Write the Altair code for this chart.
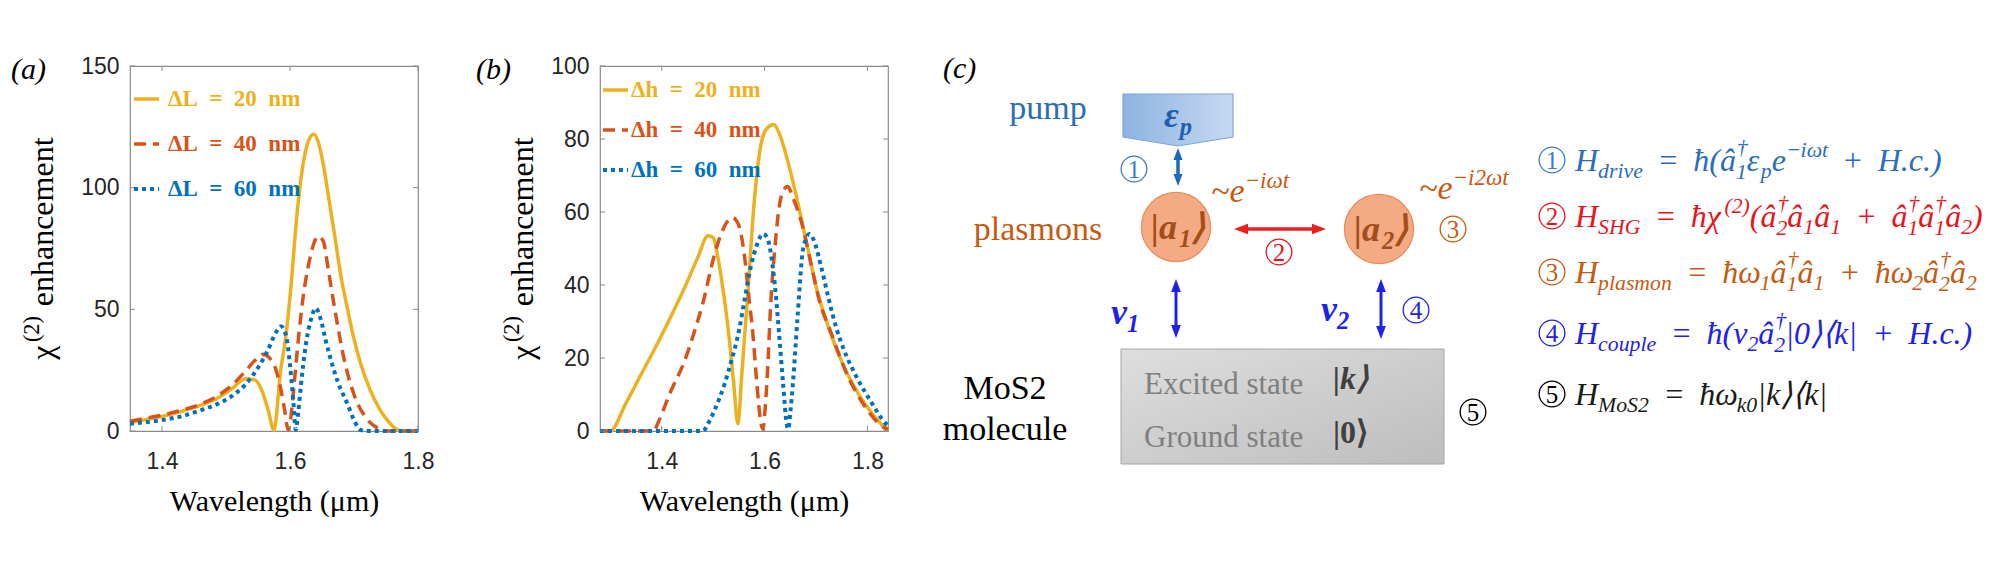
import math
import altair as alt
import pandas as pd

# ---------------- panel (a): chi(2) enhancement, length sweep ----------------
A_XDOM = [1.35, 1.8]
A_YDOM = [0, 150]
A_XTICKS = [1.4, 1.6, 1.8]
A_YTICKS = [0, 50, 100, 150]
A_NAMES = ["\u0394L\u2002=\u200220\u2002nm", "\u0394L\u2002=\u200240\u2002nm", "\u0394L\u2002=\u200260\u2002nm"]

a20_wl = [1.35, 1.38, 1.40, 1.43, 1.46, 1.49, 1.51, 1.53, 1.545, 1.557, 1.566, 1.575,
          1.585, 1.594, 1.60, 1.612, 1.622, 1.630, 1.637, 1.645, 1.653, 1.661,
          1.670, 1.680, 1.690, 1.698, 1.710, 1.725, 1.740, 1.755, 1.768, 1.775, 1.80]
a20_val = [3.5, 5, 6, 8, 10.5, 14, 17.5, 21.5, 21, 16, 8.5, 0.3,
           24, 40, 55, 92, 112, 120, 122, 118, 108, 95,
           80, 63, 50, 40, 28, 17, 9, 3.5, 0.5, 0, 0]

a40_wl = [1.35, 1.38, 1.40, 1.43, 1.46, 1.49, 1.51, 1.53,
          1.545, 1.558, 1.568, 1.577, 1.585, 1.592, 1.597,
          1.601, 1.606, 1.614, 1.620, 1.628, 1.636, 1.644, 1.652, 1.660,
          1.670, 1.685, 1.700, 1.720, 1.735, 1.750, 1.80]
a40_val = [4, 5.5, 6.5, 8.5, 11, 15, 19, 24.5,
           29, 31.5, 30, 26, 18, 8, 0.5,
           5, 18, 40, 54, 67, 76, 80, 78, 66,
           50, 29, 15, 5, 1.5, 0, 0]

a60_wl = [1.35, 1.40, 1.43, 1.46, 1.49, 1.51, 1.53, 1.55, 1.565, 1.578,
          1.586, 1.594, 1.600, 1.605, 1.609, 1.613, 1.617, 1.625, 1.633, 1.640,
          1.648, 1.655, 1.662, 1.675, 1.690, 1.700, 1.710, 1.720, 1.80]
a60_val = [3, 4.5, 6, 8.5, 11.5, 14.5, 19, 26, 33, 40.5,
           43, 39, 27, 13, 0.5, 8, 18.5, 36, 46, 50.5,
           46, 38, 31, 20, 11, 4.5, 0.5, 0, 0]

# ---------------- panel (b): chi(2) enhancement, height sweep ----------------
B_XDOM = [1.28, 1.84]
B_YDOM = [0, 100]
B_XTICKS = [1.4, 1.6, 1.8]
B_YTICKS = [0, 20, 40, 60, 80, 100]
B_NAMES = ["\u0394h\u2002=\u200220\u2002nm", "\u0394h\u2002=\u200240\u2002nm", "\u0394h\u2002=\u200260\u2002nm"]

b20_wl = [1.28, 1.30, 1.33, 1.36, 1.39, 1.42, 1.45, 1.47, 1.49, 1.50,
          1.51, 1.52, 1.53, 1.54, 1.548, 1.556, 1.567, 1.58, 1.593, 1.605,
          1.618, 1.63, 1.645, 1.664, 1.684, 1.703, 1.723, 1.75, 1.79, 1.82,
          1.836, 1.84]
b20_val = [0, 0, 7.5, 15.5, 23.5, 32, 41, 47.5, 53.5, 53,
           47, 38, 27, 13, 2, 16, 37, 63, 78.5, 83,
           84, 81, 74, 63, 50, 38, 29, 19, 8.5, 3,
           0.5, 0]

b40_wl = [1.28, 1.385, 1.392, 1.418, 1.444, 1.463, 1.48, 1.502, 1.52, 1.537,
          1.548, 1.56, 1.57, 1.577, 1.585, 1.593, 1.597, 1.601, 1.606, 1.612,
          1.62, 1.628, 1.637, 1.645, 1.655, 1.674, 1.69, 1.706, 1.729, 1.762,
          1.794, 1.832, 1.84]
b40_val = [0, 0, 2, 11, 19, 27, 35, 48, 55.5, 58.5,
           57, 49, 36, 27, 13, 2, 0.5, 6, 17, 35,
           50, 61, 66, 67, 64, 56, 46, 36, 27, 15,
           7, 1, 0.5]

b60_wl = [1.28, 1.48, 1.49, 1.502, 1.522, 1.535, 1.551, 1.56, 1.574, 1.585,
          1.597, 1.605, 1.613, 1.62, 1.628, 1.636, 1.643, 1.646, 1.65, 1.655,
          1.664, 1.674, 1.68, 1.687, 1.695, 1.71, 1.725, 1.74, 1.755, 1.78,
          1.807, 1.836, 1.84]
b60_val = [0, 0, 2, 5.5, 12.8, 19, 28, 35, 45.5, 51,
           54, 53, 48, 40, 27, 13, 2, 0.5, 5, 12.8,
           31, 49, 52.5, 54, 52.5, 45, 36, 28, 22, 14.5,
           8, 2, 1.5]

YELLOW, RED, BLUE = "#EDB120", "#D95319", "#0072BD"
AXIS_GRAY = "#8A8A8A"
LINE_STYLES = [
    {"color": YELLOW, "w": 3.5, "dash": None},
    {"color": RED, "w": 3.5, "dash": [12, 7]},
    {"color": BLUE, "w": 4, "dash": [4, 4]},
]
PW, PH = 288, 365
YT_S = 32  # y-title font size


def one_row():
    return pd.DataFrame({"k": [0]})


def vtext(text, x, y, size):
    return alt.Chart(one_row()).mark_text(
        text=text, font="Liberation Serif", fontSize=size, angle=270, color="#000000",
        align="left", baseline="alphabetic").encode(x=alt.value(x), y=alt.value(y))


def make_panel(series, xdom, ydom, xticks, yticks, names, tag, tag_x,
               leg_x0, leg_x1, leg_tx, leg_line_y, leg_text_y, ytitle_x):
    xs = alt.Scale(domain=xdom, nice=False, zero=False)
    ys = alt.Scale(domain=ydom, nice=False, zero=False)
    ax_x = alt.Axis(values=xticks, format=".1f", ticks=False, domain=False, grid=False,
                    labelFont="Liberation Sans", labelFontSize=23, labelColor="#262626",
                    labelPadding=19, labelFlush=False,
                    title="Wavelength (\u03bcm)", titleFont="Liberation Serif",
                    titleFontSize=30, titleFontWeight="normal", titleColor="#000000",
                    titlePadding=13)
    ax_y = alt.Axis(values=yticks, format="d", ticks=False, domain=False, grid=False,
                    labelFont="Liberation Sans", labelFontSize=23, labelColor="#262626",
                    labelPadding=11, labelFlush=False, title="")
    X = alt.X("wl:Q", scale=xs, axis=ax_x)
    Y = alt.Y("val:Q", scale=ys, axis=ax_y)
    layers = []
    for (wl, val), st in zip(series, LINE_STYLES):
        df = pd.DataFrame({"wl": wl, "val": val})
        kw = dict(color=st["color"], strokeWidth=st["w"], interpolate="monotone", strokeCap="butt")
        if st["dash"]:
            kw["strokeDash"] = st["dash"]
        layers.append(alt.Chart(df).mark_line(**kw).encode(x=X, y=Y))
    # inside ticks (MATLAB style), all four sides
    tx = pd.DataFrame({"wl": xticks})
    ty = pd.DataFrame({"val": yticks})
    layers.append(alt.Chart(tx).mark_rule(color=AXIS_GRAY, strokeWidth=1).encode(
        x=X, y=alt.value(PH), y2=alt.value(PH - 5)))
    layers.append(alt.Chart(tx).mark_rule(color=AXIS_GRAY, strokeWidth=1).encode(
        x=X, y=alt.value(0), y2=alt.value(5)))
    layers.append(alt.Chart(ty).mark_rule(color=AXIS_GRAY, strokeWidth=1).encode(
        y=Y, x=alt.value(0), x2=alt.value(5)))
    layers.append(alt.Chart(ty).mark_rule(color=AXIS_GRAY, strokeWidth=1).encode(
        y=Y, x=alt.value(PW), x2=alt.value(PW - 5)))
    # legend inside the plot
    for i, (nm, st) in enumerate(zip(names, LINE_STYLES)):
        kw = dict(color=st["color"], strokeWidth=st["w"], strokeCap="butt")
        if st["dash"]:
            kw["strokeDash"] = st["dash"]
        layers.append(alt.Chart(one_row()).mark_rule(**kw).encode(
            x=alt.value(leg_x0), x2=alt.value(leg_x1), y=alt.value(leg_line_y[i])))
        layers.append(alt.Chart(one_row()).mark_text(
            text=nm, font="Liberation Serif", fontSize=23, fontWeight="bold",
            color=st["color"], align="left", baseline="alphabetic").encode(
            x=alt.value(leg_tx), y=alt.value(leg_text_y[i])))
    layers.append(alt.Chart(one_row()).mark_text(
        text=tag, font="Liberation Serif", fontSize=30, fontStyle="italic",
        color="#000000", align="left", baseline="alphabetic").encode(
        x=alt.value(tag_x), y=alt.value(13)))
    # rotated y title: chi^(2) enhancement
    w_chi, w_sup, w_gap = 0.55 * YT_S, 1.17 * 0.7 * YT_S, 0.3 * YT_S
    w_enh = 5.28 * YT_S
    y0 = PH / 2 + (w_chi + w_sup + w_gap + w_enh) / 2
    layers.append(vtext("\u03c7", ytitle_x, y0, YT_S))
    layers.append(vtext("(2)", ytitle_x - 0.45 * YT_S, y0 - w_chi, 0.7 * YT_S))
    layers.append(vtext("enhancement", ytitle_x, y0 - w_chi - w_sup - w_gap, YT_S))
    return alt.layer(*layers).properties(
        width=PW, height=PH, view=alt.ViewBackground(stroke=AXIS_GRAY, strokeWidth=1.2))


panel_a = make_panel([(a20_wl, a20_val), (a40_wl, a40_val), (a60_wl, a60_val)],
                     A_XDOM, A_YDOM, A_XTICKS, A_YTICKS, A_NAMES, "(a)", -119,
                     4, 29, 38, [33, 78, 123], [40, 85, 130], -77)
panel_b = make_panel([(b20_wl, b20_val), (b40_wl, b40_val), (b60_wl, b60_val)],
                     B_XDOM, B_YDOM, B_XTICKS, B_YTICKS, B_NAMES, "(b)", -124,
                     3, 28, 31, [24, 64, 104], [31, 71, 111], -67)

# ---------------- panel (c): level / coupling diagram ----------------
C_X0, C_W = 1069, 880
C_Y0, C_H = 64, 365
cxs = alt.Scale(domain=[C_X0, C_X0 + C_W], nice=False, zero=False)
cys = alt.Scale(domain=[C_Y0, C_Y0 + C_H], nice=False, zero=False, reverse=True)
CX = alt.X("x:Q", scale=cxs, axis=None)
CY = alt.Y("y:Q", scale=cys, axis=None)

PUMP_BLUE = "#2A6EBB"
PUMP_ARROW = "#1F66BF"
EPS_BLUE = "#1F5FAF"
SHG_RED = "#E8141C"
PLAS_ORANGE = "#C55A11"
KET_BROWN = "#A34E1A"
V_BLUE = "#1E22E6"
MOL_GRAY = "#7F7F7F"

# gray molecule box
box_x, box_x2, box_y, box_y2 = [1120], [1443], [347], [462]
# pump pentagon (centre)
pump_x, pump_y, pump_w = [1177], [118], 110
PENT = "M -1 -0.473 L 1 -0.473 L 1 0.309 L 0 0.473 L -1 0.309 Z"
# plasmon mode circles
mode_x, mode_y, mode_r = [1175, 1378], [225, 227], 39
# circled step numbers
num_x = [1133, 1278, 1452, 1415, 1472, 1551, 1551, 1551, 1551, 1551]
num_y = [167, 250, 227, 308, 410, 158, 214, 270, 331, 392]
num_t = ["1", "2", "3", "4", "5", "1", "2", "3", "4", "5"]
num_c = ["#3A7DCB", SHG_RED, PLAS_ORANGE, V_BLUE, "#000000",
         "#3A7DCB", SHG_RED, PLAS_ORANGE, V_BLUE, "#000000"]
num_r = 14.5
# double arrows: x1, y1, x2, y2, colour, width, head length
arr_x1 = [1177, 1233, 1175, 1380]
arr_y1 = [146, 227, 277, 277]
arr_x2 = [1177, 1325, 1175, 1380]
arr_y2 = [184, 227, 336, 337]
arr_c = [PUMP_ARROW, "#EE1C1C", V_BLUE, V_BLUE]
arr_w = [3.5, 3.5, 3, 3]
arr_h = [12, 14, 13, 13]

# plain labels (alphabetic baseline)
lab_t = ["pump", "plasmons", "MoS2", "molecule"]
lab_x = [1047, 1037, 1004, 1004]
lab_y = [117, 238, 397, 438]
lab_s = [34, 34, 34, 34]
lab_c = [PUMP_BLUE, PLAS_ORANGE, "#000000", "#000000"]
lft_t = ["Excited state", "Ground state"]
lft_x = [1143, 1143]
lft_y = [392, 445]

OPS = 0.45  # space around = and + (em)
EQ = [("sp", OPS), ("n", "="), ("sp", OPS)]
PL = [("sp", OPS), ("n", "+"), ("sp", OPS)]
EQ_X, EQ_S = 1574, 32
# rich (math) labels: tokens, x, centre y, size, colour, style
rich = [
    ([("n", "\u03b5"), ("sub", "p")], 1163, 113, 36, EPS_BLUE, "bi"),
    ([("n", "|a"), ("sub", "1"), ("n", "\u27e9")], 1150, 225, 36, KET_BROWN, "bi"),
    ([("n", "|a"), ("sub", "2"), ("n", "\u27e9")], 1353, 227, 36, KET_BROWN, "bi"),
    ([("n", "~e"), ("sup", "\u2212i\u03c9t")], 1210, 189, 34, PLAS_ORANGE, "i"),
    ([("n", "~e"), ("sup", "\u2212i2\u03c9t")], 1418, 186, 34, PLAS_ORANGE, "i"),
    ([("n", "v"), ("sub", "1")], 1110, 310, 36, V_BLUE, "bi"),
    ([("n", "v"), ("sub", "2")], 1320, 307, 36, V_BLUE, "bi"),
    ([("n", "|k\u27e9")], 1332, 376, 32, "#404040", "bi"),
    ([("n", "|0\u27e9")], 1332, 430, 32, "#404040", "b"),
    ([("n", "(c)")], 942, 66, 30, "#000000", "i"),
    # Hamiltonians
    ([("n", "H"), ("sub", "drive")] + EQ +
     [("n", "\u0127(\u00e2"), ("ss", "1", "\u2020"),
      ("n", "\u03b5"), ("sub", "p"), ("n", "e"), ("sup", "\u2212i\u03c9t")] + PL +
     [("n", "H.c.)")], EQ_X, 158, EQ_S, PUMP_BLUE, "i"),
    ([("n", "H"), ("sub", "SHG")] + EQ +
     [("n", "\u0127\u03c7"), ("sup", "(2)"),
      ("n", "(\u00e2"), ("ss", "2", "\u2020"), ("n", "\u00e2"), ("sub", "1"),
      ("n", "\u00e2"), ("sub", "1")] + PL +
     [("n", "\u00e2"), ("ss", "1", "\u2020"),
      ("n", "\u00e2"), ("ss", "1", "\u2020"), ("n", "\u00e2"), ("sub", "2"), ("n", ")")],
     EQ_X, 214, EQ_S, SHG_RED, "i"),
    ([("n", "H"), ("sub", "plasmon")] + EQ +
     [("n", "\u0127\u03c9"), ("sub", "1"),
      ("n", "\u00e2"), ("ss", "1", "\u2020"), ("n", "\u00e2"), ("sub", "1")] + PL +
     [("n", "\u0127\u03c9"), ("sub", "2"), ("n", "\u00e2"), ("ss", "2", "\u2020"),
      ("n", "\u00e2"), ("sub", "2")], EQ_X, 270, EQ_S, PLAS_ORANGE, "i"),
    ([("n", "H"), ("sub", "couple")] + EQ +
     [("n", "\u0127(v"), ("sub", "2"),
      ("n", "\u00e2"), ("ss", "2", "\u2020"), ("n", "|0\u27e9\u27e8k|")] + PL +
     [("n", "H.c.)")], EQ_X, 331, EQ_S, V_BLUE, "i"),
    ([("n", "H"), ("sub", "MoS2")] + EQ +
     [("n", "\u0127\u03c9"), ("sub", "k0"),
      ("n", "|k\u27e9\u27e8k|")], EQ_X, 392, EQ_S, "#1A1A1A", "i"),
]

EMW = {" ": 0.25, "\u2002": 0.5, "H": 0.722, "S": 0.5, "G": 0.722, "M": 0.833, "C": 0.667,
       "i": 0.278, "l": 0.278, "t": 0.278, "f": 0.278, "j": 0.278, "r": 0.389, "s": 0.389,
       "m": 0.722, "w": 0.667, "v": 0.444, "c": 0.444, "e": 0.444, "k": 0.444, "z": 0.389,
       "y": 0.444, "x": 0.444, "=": 0.675, "+": 0.675, "\u2212": 0.675, "(": 0.333,
       ")": 0.333, ".": 0.25, "\u0127": 0.5, "\u03c7": 0.55, "\u03c9": 0.67, "\u03b5": 0.44,
       "\u00e2": 0.5, "\u2020": 0.5, "|": 0.275, "\u27e9": 0.39, "\u27e8": 0.39, "~": 0.54}


def tw(s, size):
    return sum(EMW.get(ch, 0.5) for ch in s) * size


def layout(tokens, x0, yc, size, color, sty):
    out = []
    x = x0
    base = yc + 0.33 * size
    small = 0.68 * size
    for tok in tokens:
        kind = tok[0]
        if kind == "sp":
            x += tok[1] * size
        elif kind == "n":
            out.append((x, base, tok[1], size, color, sty))
            x += tw(tok[1], size)
        elif kind == "sub":
            out.append((x, base + 0.22 * size, tok[1], small, color, sty))
            x += tw(tok[1], small)
        elif kind == "sup":
            out.append((x, base - 0.42 * size, tok[1], small, color, sty))
            x += tw(tok[1], small)
        else:  # stacked subscript / superscript
            out.append((x, base + 0.27 * size, tok[1], small, color, sty))
            out.append((x + 0.03 * size, base - 0.52 * size, tok[2], small, color, sty))
            x += max(tw(tok[1], small), tw(tok[2], small))
    return out


rich_rows = []
for tokens, x0, yc, size, color, sty in rich:
    rich_rows += layout(tokens, x0, yc, size, color, sty)
rich_df = pd.DataFrame(rich_rows, columns=["x", "y", "t", "s", "c", "sty"])

c_layers = []
# molecule box
grad_gray = alt.LinearGradient(gradient="linear", x1=0, y1=0, x2=1, y2=1,
                               stops=[alt.GradientStop(offset=0, color="#DEDEDE"),
                                      alt.GradientStop(offset=1, color="#BDBDBD")])
c_layers.append(alt.Chart(pd.DataFrame({"x": box_x, "x2": box_x2, "y": box_y, "y2": box_y2}))
                .mark_rect(fill=grad_gray, stroke="#A6A6A6", strokeWidth=1)
                .encode(x=CX, x2="x2:Q", y=CY, y2="y2:Q"))
# pump pentagon
grad_blue = alt.LinearGradient(gradient="linear", x1=0, y1=0, x2=1, y2=0,
                               stops=[alt.GradientStop(offset=0, color="#8DB3E2"),
                                      alt.GradientStop(offset=1, color="#C6D9F1")])
c_layers.append(alt.Chart(pd.DataFrame({"x": pump_x, "y": pump_y}))
                .mark_point(shape=PENT, size=pump_w ** 2, filled=True, fill=grad_blue,
                            stroke="#7FA6D9", strokeWidth=1.2, opacity=1)
                .encode(x=CX, y=CY))
# plasmon circles
c_layers.append(alt.Chart(pd.DataFrame({"x": mode_x, "y": mode_y}))
                .mark_point(shape="circle", size=math.pi * mode_r ** 2, filled=True,
                            fill="#F4AA82", stroke="#E58A57", strokeWidth=1.2, opacity=1)
                .encode(x=CX, y=CY))
# circled numbers
c_layers.append(alt.Chart(pd.DataFrame({"x": num_x, "y": num_y, "c": num_c}))
                .mark_point(shape="circle", size=math.pi * num_r ** 2, filled=False,
                            strokeWidth=1.3, opacity=1)
                .encode(x=CX, y=CY, stroke=alt.Stroke("c:N", scale=None)))
c_layers.append(alt.Chart(pd.DataFrame({"x": num_x, "y": num_y, "t": num_t, "c": num_c}))
                .mark_text(font="Liberation Serif", fontSize=25, align="center",
                           baseline="middle", dy=1)
                .encode(x=CX, y=CY, text="t:N", color=alt.Color("c:N", scale=None)))
# arrows (shaft + heads)
UP = "M 0 -1 L 0.75 1 L -0.75 1 Z"
DOWN = "M 0 1 L 0.75 -1 L -0.75 -1 Z"
LEFT = "M -1 0 L 1 -0.75 L 1 0.75 Z"
RIGHT = "M 1 0 L -1 -0.75 L -1 0.75 Z"
shaft, heads = [], []
for x1, y1, x2, y2, c, w, h in zip(arr_x1, arr_y1, arr_x2, arr_y2, arr_c, arr_w, arr_h):
    if x1 == x2:
        shaft.append((x1, y1 + 0.8 * h, x2, y2 - 0.8 * h, c, w))
        heads.append((x1, y1 + h / 2, UP, c, h * h))
        heads.append((x2, y2 - h / 2, DOWN, c, h * h))
    else:
        shaft.append((x1 + 0.8 * h, y1, x2 - 0.8 * h, y2, c, w))
        heads.append((x1 + h / 2, y1, LEFT, c, h * h))
        heads.append((x2 - h / 2, y2, RIGHT, c, h * h))
c_layers.append(alt.Chart(pd.DataFrame(shaft, columns=["x", "y", "x2", "y2", "c", "w"]))
                .mark_rule(strokeCap="butt")
                .encode(x=CX, y=CY, x2="x2:Q", y2="y2:Q",
                        color=alt.Color("c:N", scale=None),
                        strokeWidth=alt.StrokeWidth("w:Q", scale=None)))
c_layers.append(alt.Chart(pd.DataFrame(heads, columns=["x", "y", "shape", "c", "size"]))
                .mark_point(filled=True, opacity=1, strokeWidth=0)
                .encode(x=CX, y=CY, shape=alt.Shape("shape:N", scale=None),
                        fill=alt.Fill("c:N", scale=None),
                        size=alt.Size("size:Q", scale=None)))
# plain labels
c_layers.append(alt.Chart(pd.DataFrame({"x": lab_x, "y": lab_y, "t": lab_t, "s": lab_s, "c": lab_c}))
                .mark_text(font="Liberation Serif", align="center", baseline="alphabetic")
                .encode(x=CX, y=CY, text="t:N", size=alt.Size("s:Q", scale=None),
                        color=alt.Color("c:N", scale=None)))
c_layers.append(alt.Chart(pd.DataFrame({"x": lft_x, "y": lft_y, "t": lft_t}))
                .mark_text(font="Liberation Serif", fontSize=31, align="left",
                           baseline="alphabetic", color=MOL_GRAY)
                .encode(x=CX, y=CY, text="t:N"))
# rich math labels
for sty, fs, fw in [("i", "italic", "normal"), ("bi", "italic", "bold"), ("b", "normal", "bold")]:
    c_layers.append(alt.Chart(rich_df).transform_filter(alt.datum.sty == sty)
                    .mark_text(font="Liberation Serif", fontStyle=fs, fontWeight=fw,
                               align="left", baseline="alphabetic")
                    .encode(x=CX, y=CY, text="t:N", size=alt.Size("s:Q", scale=None),
                            color=alt.Color("c:N", scale=None)))

panel_c = alt.layer(*c_layers).properties(
    width=C_W, height=C_H, view=alt.ViewBackground(stroke="transparent"))

chart = alt.hconcat(panel_a, panel_b, panel_c, spacing=182, bounds="flush").properties(
    padding={"left": 2, "top": 45, "right": 0, "bottom": 0})

chart.save("out.html", embed_options={"renderer": "svg", "actions": False})
